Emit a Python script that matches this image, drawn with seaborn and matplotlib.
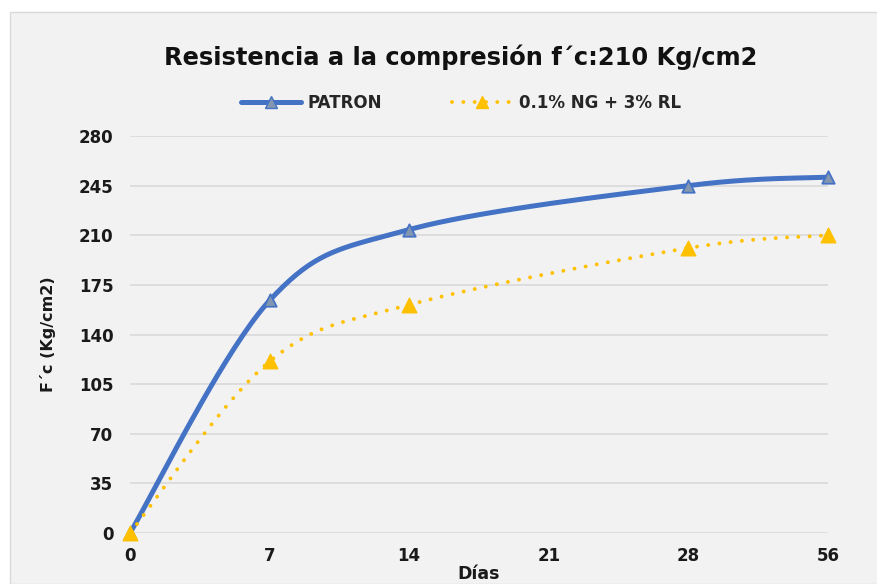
import numpy as np
import pandas as pd
import matplotlib
matplotlib.use("Agg")
import matplotlib.pyplot as plt
import seaborn as sns
from matplotlib.lines import Line2D
from matplotlib.patches import Rectangle

# data
dias = ['0', '7', '14', '21', '28', '56']
dias_medidos = ['0', '7', '14', '28', '56']
patron = [0, 164, 214, 245, 251]
ng_rl = [0, 121, 161, 201, 210]

BLUE = '#4472C4'
GOLD = '#FFC000'
BG = '#F2F2F2'

sns.set_theme(style='white')
plt.rcParams['font.family'] = ['DejaVu Sans']
plt.rcParams['font.weight'] = 'bold'


def smooth(xs, ys, n=40):
    # Catmull-Rom style smoothing, like Excel smoothed lines
    xs = np.asarray(xs, float)
    ys = np.asarray(ys, float)
    px = np.r_[xs[0], xs, xs[-1]]
    py = np.r_[ys[0], ys, ys[-1]]
    ox, oy = [], []
    t = np.linspace(0, 1, n)
    for i in range(1, len(px) - 2):
        p0x, p1x, p2x, p3x = px[i - 1], px[i], px[i + 1], px[i + 2]
        p0y, p1y, p2y, p3y = py[i - 1], py[i], py[i + 1], py[i + 2]
        c1x = p1x + (p2x - p0x) / 6
        c1y = p1y + (p2y - p0y) / 6
        c2x = p2x - (p3x - p1x) / 6
        c2y = p2y - (p3y - p1y) / 6
        bx = (1 - t) ** 3 * p1x + 3 * (1 - t) ** 2 * t * c1x + 3 * (1 - t) * t ** 2 * c2x + t ** 3 * p2x
        by = (1 - t) ** 3 * p1y + 3 * (1 - t) ** 2 * t * c1y + 3 * (1 - t) * t ** 2 * c2y + t ** 3 * p2y
        ox.extend(bx)
        oy.extend(by)
    return np.array(ox), np.array(oy)


pos = [dias.index(d) for d in dias_medidos]

fig = plt.figure(figsize=(8.78, 5.84), dpi=100, facecolor='white')
fig.patches.append(Rectangle((10 / 878, 0), 868 / 878, 572 / 584, transform=fig.transFigure,
                             facecolor=BG, edgecolor='#D9D9D9', linewidth=1, zorder=-10))
ax = fig.add_axes([130 / 878, 51 / 584, 698 / 878, 397 / 584])
ax.set_facecolor(BG)
ax.patch.set_alpha(0)

for vals, color, ls, lw in [(patron, BLUE, '-', 3.6), (ng_rl, GOLD, (0, (0.01, 2.9)), 2.8)]:
    sx, sy = smooth(pos, vals)
    curve = pd.DataFrame({'x': sx, 'y': sy})
    sns.lineplot(data=curve, x='x', y='y', sort=False, color=color, linewidth=lw,
                 linestyle=ls, dash_capstyle='round', solid_capstyle='round', ax=ax,
                 zorder=3, clip_on=False)

pts_p = pd.DataFrame({'x': pos, 'y': patron})
pts_n = pd.DataFrame({'x': pos, 'y': ng_rl})
sns.scatterplot(data=pts_p, x='x', y='y', marker='^', s=80, color='#8497B0',
                edgecolor=BLUE, linewidth=1.3, ax=ax, zorder=4, clip_on=False)
sns.scatterplot(data=pts_n, x='x', y='y', marker='^', s=110, color=GOLD,
                edgecolor=GOLD, linewidth=1, ax=ax, zorder=5, clip_on=False)

ax.set_xlim(0, len(dias) - 1)
ax.set_ylim(0, 280)
ax.set_yticks(np.arange(0, 281, 35))
ax.set_xticks(range(len(dias)))
ax.set_xticklabels(dias)
ax.grid(axis='y', color='#D9D9D9', linewidth=1.2)
ax.grid(axis='x', visible=False)
for s in ax.spines.values():
    s.set_visible(False)
ax.tick_params(axis='both', length=0, labelsize=12, colors='#1a1a1a')
ax.tick_params(axis='y', pad=12)
ax.tick_params(axis='x', pad=10)
for lab in ax.get_xticklabels() + ax.get_yticklabels():
    lab.set_fontweight('bold')

ax.set_xlabel('Días', fontsize=12.5, fontweight='bold', labelpad=0, color='#1a1a1a')
ax.set_ylabel('F´c (Kg/cm2)', fontsize=11.5, fontweight='bold', labelpad=16, color='#1a1a1a')

fig.text(461 / 878, 1 - 57 / 584, 'Resistencia a la compresión f´c:210 Kg/cm2',
         ha='center', va='center', fontsize=17.4, fontweight='bold', color='#111111')

handles = [
    Line2D([], [], color=BLUE, linewidth=3.6, marker='^', markersize=8,
           markerfacecolor='#8497B0', markeredgecolor=BLUE),
    Line2D([], [], color=GOLD, linewidth=2.8, linestyle=(0, (0.01, 2.9)), dash_capstyle='round',
           marker='^', markersize=9, markerfacecolor=GOLD, markeredgecolor=GOLD),
]
fig.legend(handles, ['PATRON', '0.1% NG + 3% RL'], loc='center',
           bbox_to_anchor=(461 / 878, 1 - 103 / 584), ncol=2, frameon=False,
           handlelength=3.6, handletextpad=0.4, columnspacing=4.2,
           prop={'weight': 'bold', 'size': 12})

fig.savefig('out.png', dpi=100, facecolor='white')
